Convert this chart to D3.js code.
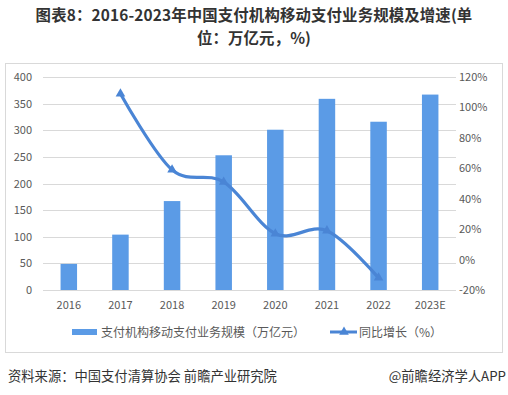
<!DOCTYPE html>
<html>
<head>
<meta charset="utf-8">
<script src="https://cdn.jsdelivr.net/npm/d3@7"></script>
<style>
  body { margin: 0; background: #fff; }
  text { font-family: "Microsoft YaHei", "Noto Sans CJK SC", sans-serif; }
</style>
</head>
<body>
<div id="chart"></div>
<script>
// chart data
const years = ["2016", "2017", "2018", "2019", "2020", "2021", "2022", "2023E"];
const scaleValues = [49, 104, 167, 253, 301, 359, 316, 367];
const growthYears = ["2017", "2018", "2019", "2020", "2021", "2022"];
const growthValues = [109, 59, 51, 17, 19, -12];
const leftTicks = [0, 50, 100, 150, 200, 250, 300, 350, 400];
const rightTicks = [-20, 0, 20, 40, 60, 80, 100, 120];

const W = 508, H = 395;
const barColor = "#5b9be6", lineColor = "#4a85d5", textColor = "#595959";

const svg = d3.select("#chart").append("svg")
  .attr("width", W).attr("height", H);

// title
const title = svg.append("g").attr("font-weight", "bold").attr("fill", "#333")
  .attr("font-size", 15.4).attr("text-anchor", "middle").attr("letter-spacing", 0.15);
title.append("text").attr("x", 254).attr("y", 21)
  .text("图表8：2016-2023年中国支付机构移动支付业务规模及增速(单");
title.append("text").attr("x", 254).attr("y", 43.5).text("位：万亿元，%)");

// frame
svg.append("rect").attr("x", 5.5).attr("y", 63.5).attr("width", 497).attr("height", 289)
  .attr("fill", "none").attr("stroke", "#d9d9d9");

// plot area
const plot = {left: 43, right: 456, top: 77, bottom: 290};

const x = d3.scaleBand().domain(years).range([plot.left, plot.right]);
const yL = d3.scaleLinear().domain([0, 400]).range([plot.bottom, plot.top]);
const yR = d3.scaleLinear().domain([-20, 120]).range([plot.bottom, plot.top]);

// gridlines
svg.append("g").selectAll("line").data(leftTicks).join("line")
  .attr("x1", plot.left).attr("x2", plot.right)
  .attr("y1", d => Math.round(yL(d)) + 0.5).attr("y2", d => Math.round(yL(d)) + 0.5)
  .attr("stroke", "#d9d9d9");

// left axis labels
svg.append("g").attr("font-size", 11).attr("fill", textColor).attr("text-anchor", "end")
  .selectAll("text").data(leftTicks).join("text")
  .attr("x", 32).attr("y", d => yL(d) + 4).text(d => d);

// right axis labels
svg.append("g").attr("font-size", 11).attr("fill", textColor).attr("text-anchor", "start")
  .selectAll("text").data(rightTicks).join("text")
  .attr("x", 459).attr("y", d => yR(d) + 4).text(d => d + "%");

// x labels
svg.append("g").attr("font-size", 11).attr("fill", textColor).attr("text-anchor", "middle")
  .selectAll("text").data(years).join("text")
  .attr("x", d => x(d) + x.bandwidth() / 2).attr("y", 309).text(d => d);

// bars
const barW = 16.5;
svg.append("g").selectAll("rect").data(years).join("rect")
  .attr("x", d => x(d) + x.bandwidth() / 2 - barW / 2)
  .attr("y", (d, i) => yL(scaleValues[i]))
  .attr("width", barW)
  .attr("height", (d, i) => plot.bottom - yL(scaleValues[i]))
  .attr("fill", barColor);

// growth line
const pts = growthYears.map((d, i) => [x(d) + x.bandwidth() / 2, yR(growthValues[i])]);
const line = d3.line().curve(d3.curveCatmullRom.alpha(0));
svg.append("path").attr("d", line(pts))
  .attr("fill", "none").attr("stroke", lineColor).attr("stroke-width", 3.2);

const tri = d3.symbol().type(d3.symbolTriangle).size(40);
svg.append("g").selectAll("path").data(pts).join("path")
  .attr("d", tri).attr("transform", d => `translate(${d[0]},${d[1]})`)
  .attr("fill", lineColor);

// legend
const lg = svg.append("g").attr("font-size", 12).attr("fill", textColor);
lg.append("rect").attr("x", 72).attr("y", 329).attr("width", 25).attr("height", 6).attr("fill", barColor);
lg.append("text").attr("x", 101).attr("y", 336.5).text("支付机构移动支付业务规模（万亿元）");
lg.append("line").attr("x1", 330).attr("x2", 357).attr("y1", 332).attr("y2", 332)
  .attr("stroke", lineColor).attr("stroke-width", 3);
lg.append("path").attr("d", tri).attr("transform", "translate(344,332)").attr("fill", lineColor);
lg.append("text").attr("x", 359).attr("y", 336.5).text("同比增长（%）");

// footer
const ft = svg.append("g").attr("font-size", 13.3).attr("fill", "#333");
ft.append("text").attr("x", 8).attr("y", 381).text("资料来源：中国支付清算协会 前瞻产业研究院");
ft.append("text").attr("x", 506).attr("y", 381).attr("text-anchor", "end").text("@前瞻经济学人APP");
</script>
</body>
</html>
